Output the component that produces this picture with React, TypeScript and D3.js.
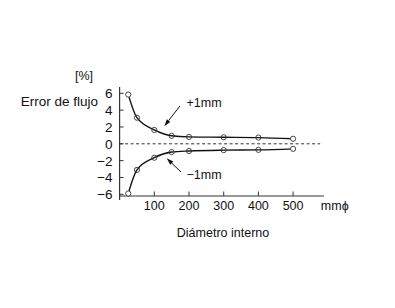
import React from "react";
import * as d3 from "d3";

const diameters = [25, 50, 100, 150, 200, 300, 400, 500];
const errPlus = [5.85, 3.1, 1.65, 0.95, 0.82, 0.78, 0.74, 0.6];
const errMinus = [-5.9, -3.1, -1.65, -0.98, -0.85, -0.75, -0.72, -0.6];
const xTicks = [100, 200, 300, 400, 500];
const yTicks = [-6, -4, -2, 0, 2, 4, 6];

const W = 395;
const H = 308;
const FONT = "'Liberation Sans', Arial, sans-serif";

export default function App() {
  const x = d3.scaleLinear().domain([0, 500]).range([119.6, 293.1]);
  const y = d3.scaleLinear().domain([-6.2, 6]).range([196, 93.3]);
  const x0 = x(0);
  const yBase = y(-6.2);

  const line = d3
    .line<number>()
    .x((_, i) => x(diameters[i]))
    .y((d) => y(d))
    .curve(d3.curveMonotoneX);

  const fmt = (v: number) => (v < 0 ? "\u2212" + Math.abs(v) : String(v));

  const arrow = (x1: number, y1: number, x2: number, y2: number) => {
    const ax1 = x(x1), ay1 = y(y1), ax2 = x(x2), ay2 = y(y2);
    const ang = Math.atan2(ay2 - ay1, ax2 - ax1);
    const len = 7, wid = 2.2;
    const bx = ax2 - len * Math.cos(ang), by = ay2 - len * Math.sin(ang);
    const px = -Math.sin(ang) * wid, py = Math.cos(ang) * wid;
    return (
      <g>
        <line x1={ax1} y1={ay1} x2={bx} y2={by} stroke="#111" strokeWidth={1} />
        <polygon points={`${ax2},${ay2} ${bx + px},${by + py} ${bx - px},${by - py}`} fill="#111" />
      </g>
    );
  };

  return (
    <svg width={W} height={H} style={{ position: "absolute", left: 0, top: 0, background: "#fff" }} fontFamily={FONT}>
      {/* axes */}
      <line x1={x0} y1={y(6.75)} x2={x0} y2={yBase + 4} stroke="#333" strokeWidth={1.2} />
      <line x1={x0} y1={yBase} x2={x(589)} y2={yBase} stroke="#333" strokeWidth={1.2} />
      {yTicks.map((t) => (
        <g key={"y" + t}>
          <line x1={x0} x2={x0 + 4} y1={y(t)} y2={y(t)} stroke="#333" strokeWidth={1} />
          <text x={x0 - 7} y={y(t)} dy="0.36em" textAnchor="end" fontSize={13.5} fill="#111">
            {fmt(t)}
          </text>
        </g>
      ))}
      {xTicks.map((t) => (
        <g key={"x" + t}>
          <line x1={x(t)} x2={x(t)} y1={yBase} y2={yBase - 4.5} stroke="#333" strokeWidth={1} />
          <text x={x(t)} y={yBase + 9} dy="0.36em" textAnchor="middle" fontSize={12.5} fill="#111">
            {t}
          </text>
        </g>
      ))}
      <text x={x(580)} y={yBase + 9} dy="0.36em" textAnchor="start" fontSize={12.5} fill="#111">
        mm{"\u03d5"}
      </text>
      <text x={223} y={232} dy="0.36em" textAnchor="middle" fontSize={12.5} fill="#111">
        Diámetro interno
      </text>
      <text x={93} y={75} dy="0.36em" textAnchor="end" fontSize={12.5} fill="#111">
        [%]
      </text>
      <text x={98} y={101} dy="0.36em" textAnchor="end" fontSize={13.5} fill="#111">
        Error de flujo
      </text>

      {/* zero dashed line */}
      <line x1={x0} x2={x(578)} y1={y(0)} y2={y(0)} stroke="#333" strokeWidth={1} strokeDasharray="3,2.5" />

      {/* curves */}
      {[errPlus, errMinus].map((s, si) => (
        <g key={"s" + si}>
          <path d={line(s) || ""} fill="none" stroke="#111" strokeWidth={1.4} />
          {s.map((v, i) => (
            <circle
              key={i}
              cx={x(diameters[i])}
              cy={y(v)}
              r={2.6}
              fill={i === 0 || i === s.length - 1 ? "#fff" : "none"}
              stroke="#333"
              strokeWidth={0.9}
            />
          ))}
        </g>
      ))}

      {/* annotations */}
      {arrow(174, 4.5, 128.8, 2.1)}
      {arrow(177, -3.35, 135.7, -1.72)}
      <text x={x(193)} y={y(4.9)} dy="0.36em" fontSize={12.5} fill="#111">
        +1mm
      </text>
      <text x={x(193)} y={y(-3.7)} dy="0.36em" fontSize={12.5} fill="#111">
        {"\u22121mm"}
      </text>
    </svg>
  );
}
